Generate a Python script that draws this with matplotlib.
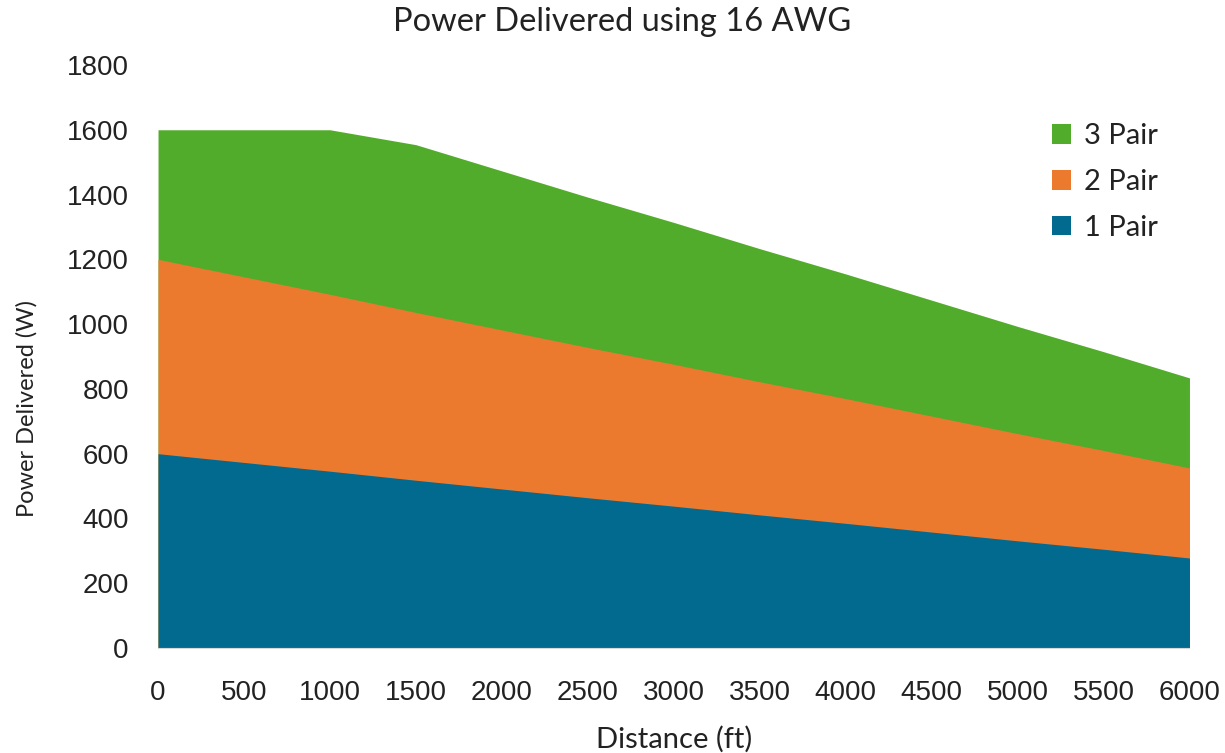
import matplotlib.pyplot as plt
import numpy as np

distance = [0, 500, 1000, 1500, 2000, 2500, 3000, 3500, 4000, 4500, 5000, 5500, 6000]
pair1 = [600, 573, 546, 518, 491, 464, 438, 411, 385, 358, 331, 305, 278]
pair2 = [1200, 1146, 1092, 1036, 982, 928, 876, 822, 770, 716, 662, 610, 556]
pair3 = [1600, 1600, 1600, 1554, 1473, 1392, 1314, 1233, 1155, 1074, 993, 915, 834]

labels = ['3 Pair', '2 Pair', '1 Pair']
colors = ['#52ac2b', '#ec7a2e', '#02698f']

fig = plt.figure(figsize=(12.25, 7.53), dpi=100)
ax = fig.add_axes([0.129, 0.1394, 0.842, 0.7743])

# back to front: 3 pair total, then 2 pair, then 1 pair
for ys, lab, c in zip([pair3, pair2, pair1], labels, colors):
    ax.fill_between(distance, 0, ys, color=c, label=lab, lw=0)

ax.set_xlim(0, 6000)
ax.set_ylim(0, 1800)
ax.set_xticks(np.arange(0, 6001, 500))
ax.set_yticks(np.arange(0, 1801, 200))
for lab in ax.get_xticklabels() + ax.get_yticklabels():
    lab.set_fontfamily('Liberation Sans')
    lab.set_fontsize(20)
    lab.set_color('#222222')
ax.tick_params(axis='y', length=0, pad=21)
ax.tick_params(axis='x', length=0, pad=23)

for s in ['top', 'right', 'left']:
    ax.spines[s].set_visible(False)
ax.spines['bottom'].set_color('#d9d9d9')

# title is centred on the figure, not the plot area
fig.text(0.508, 0.971, 'Power Delivered using 16 AWG', fontfamily='Lato', fontsize=23.5,
         color='#222222', ha='center', va='center')
ax.set_xlabel('Distance (ft)', fontfamily='Lato', fontsize=21, color='#222222', labelpad=14)
ax.set_ylabel('Power Delivered (W)', fontfamily='Lato', fontsize=17, color='#222222')
ax.yaxis.set_label_coords(-0.117, 0.41)

leg = ax.legend(loc='upper right', frameon=False, prop={'family': 'Lato', 'size': 21},
                handlelength=0.65, handleheight=0.65, handletextpad=0.45,
                labelspacing=0.68, bbox_to_anchor=(0.995, 0.945))
for t in leg.get_texts():
    t.set_color('#222222')

plt.savefig('out.png', dpi=100)
